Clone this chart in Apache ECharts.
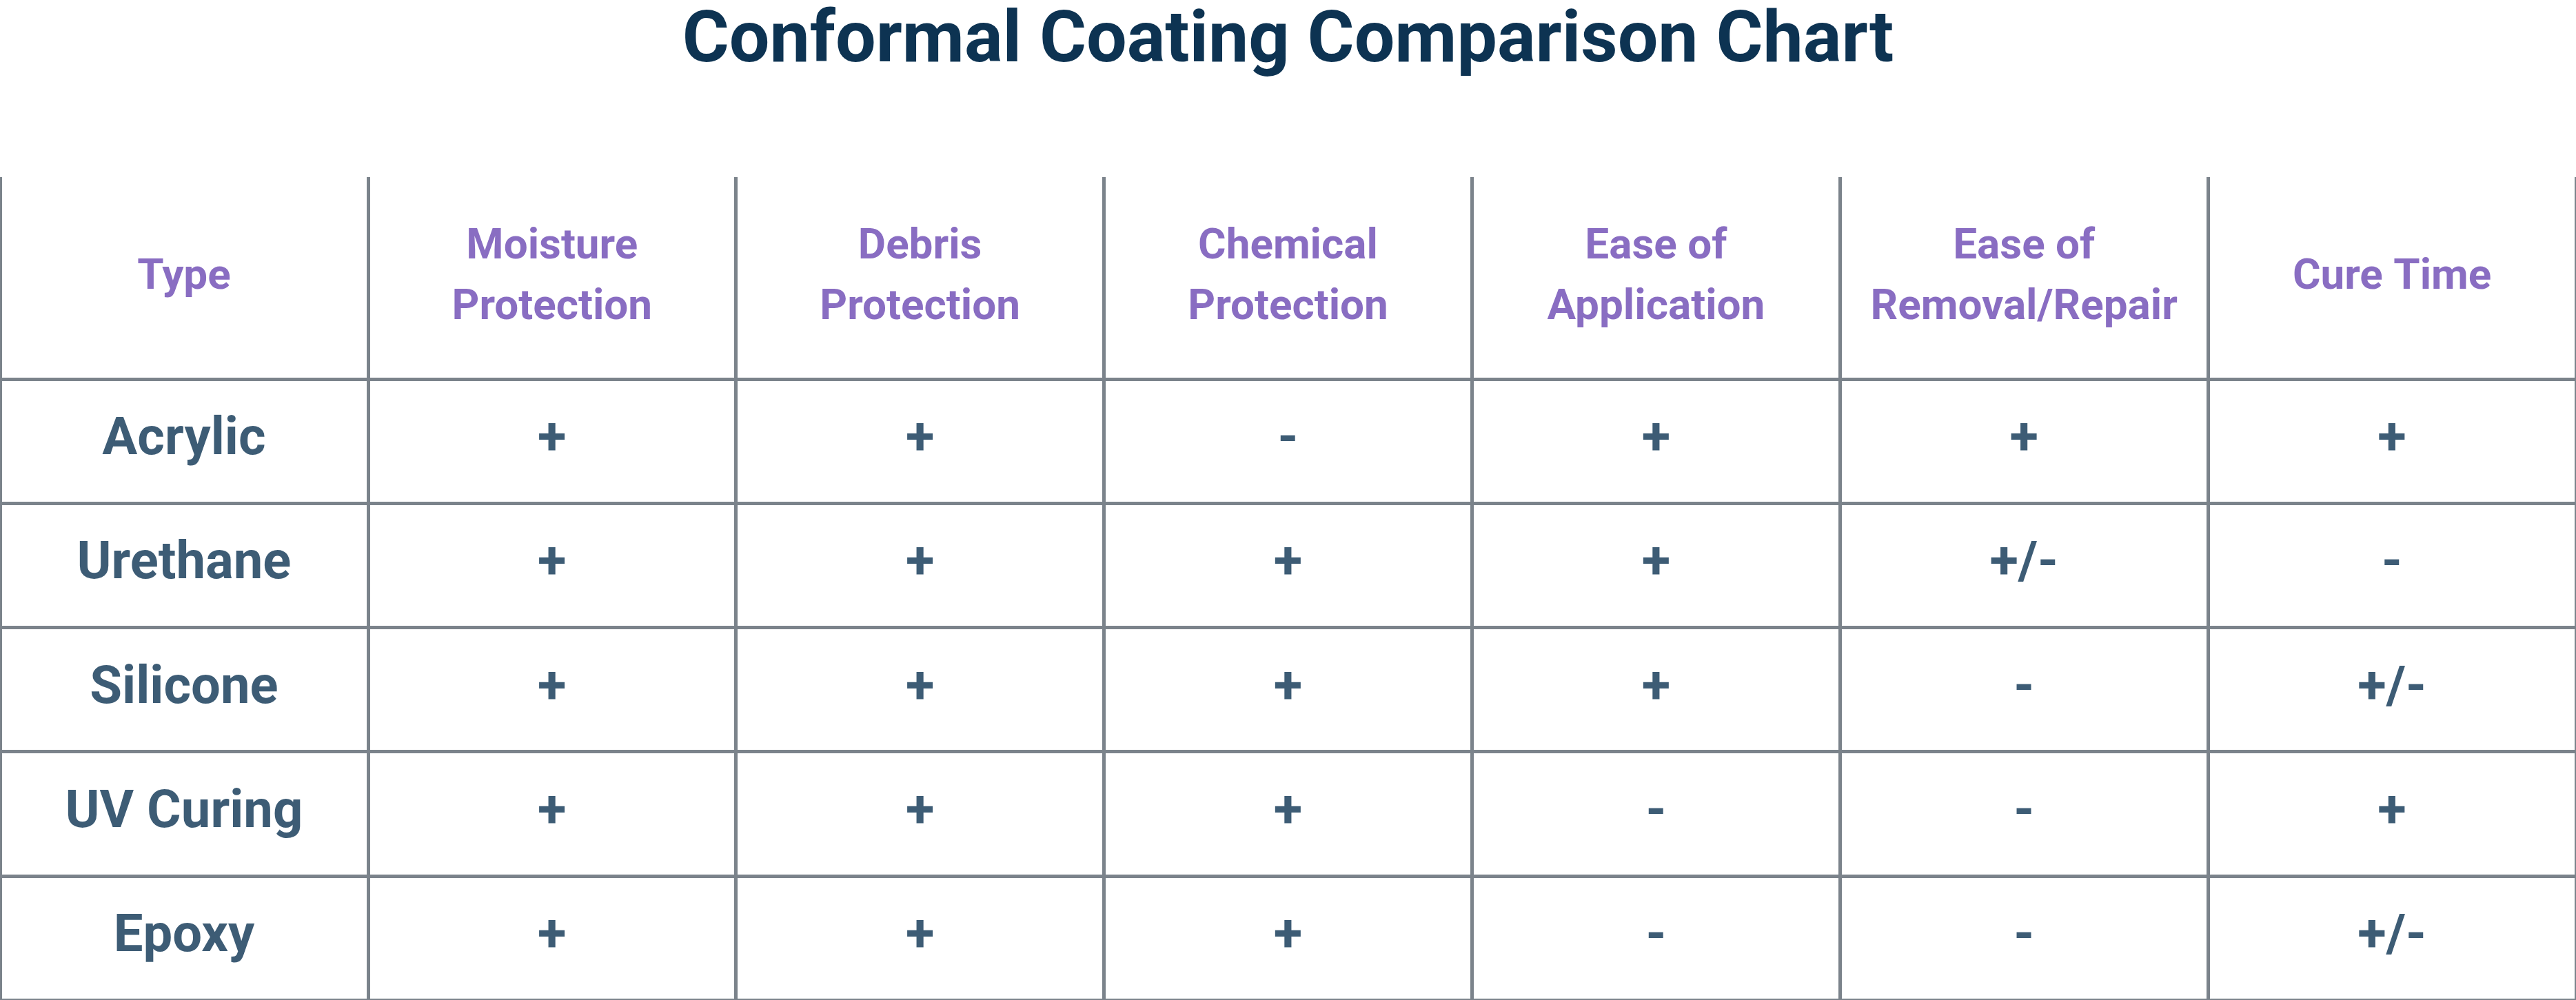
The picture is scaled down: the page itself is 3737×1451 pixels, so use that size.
<!DOCTYPE html>
<html>
<head>
<meta charset="utf-8">
<script src="https://cdn.jsdelivr.net/npm/echarts@6/dist/echarts.min.js"></script>
<style>html,body{margin:0;padding:0;background:#fff}#c{width:3737px;height:1451px}</style>
</head>
<body>
<div id="c"></div>
<script>
var columns = ['Type', 'Moisture\nProtection', 'Debris\nProtection', 'Chemical\nProtection',
    'Ease of\nApplication', 'Ease of\nRemoval/Repair', 'Cure Time'];
var types = ['Acrylic', 'Urethane', 'Silicone', 'UV Curing', 'Epoxy'];
var acrylic = ['+', '+', '-', '+', '+', '+'];
var urethane = ['+', '+', '+', '+', '+/-', '-'];
var silicone = ['+', '+', '+', '+', '-', '+/-'];
var uvCuring = ['+', '+', '+', '-', '-', '+'];
var epoxy = ['+', '+', '+', '-', '-', '+/-'];
var ratings = [acrylic, urethane, silicone, uvCuring, epoxy];

var navy = '#0d3352';
var purple = '#6b48b3';
var lineColor = '#7b838b';
var font = 'Roboto';

var chart = echarts.init(document.getElementById('c'));

// header cells
var headerData = columns.map(function (c, i) { return [i, 0, c]; });
// body cells: row name in column 0, then the ratings
var bodyData = [];
types.forEach(function (t, r) {
    bodyData.push([0, r, t]);
    ratings[r].forEach(function (v, k) {
        bodyData.push([k + 1, r, v]);
    });
});

var option = {
    backgroundColor: '#fff',
    title: {
        text: 'Conformal Coating Comparison Chart',
        left: 'center',
        top: 6,
        textStyle: {color: navy, fontFamily: font, fontWeight: 'bold', fontSize: 104}
    },
    grid: [
        {left: -5, right: -5, top: 257, height: 293},
        {left: -5, right: -5, top: 550, height: 905}
    ],
    xAxis: [
        {
            gridIndex: 0, type: 'category', data: columns,
            axisLine: {show: false}, axisTick: {show: false}, axisLabel: {show: false},
            splitLine: {show: true, lineStyle: {color: lineColor, width: 5}}
        },
        {
            gridIndex: 1, type: 'category', data: columns,
            axisLine: {show: false}, axisTick: {show: false}, axisLabel: {show: false},
            splitLine: {show: true, lineStyle: {color: lineColor, width: 5}}
        }
    ],
    yAxis: [
        {gridIndex: 0, type: 'value', min: -1, max: 1, show: false},
        {
            gridIndex: 1, type: 'category', data: types, inverse: true,
            axisLine: {show: false}, axisTick: {show: false}, axisLabel: {show: false},
            splitLine: {show: true, lineStyle: {color: lineColor, width: 5}}
        }
    ],
    series: [
        {
            type: 'scatter', xAxisIndex: 0, yAxisIndex: 0,
            symbolSize: 1, itemStyle: {color: 'rgba(0,0,0,0)'},
            encode: {x: 0, y: 1},
            data: headerData,
            label: {
                show: true, position: 'inside',
                formatter: function (p) { return p.data[2]; },
                color: purple, fontFamily: font, fontWeight: 'bold',
                fontSize: 62, lineHeight: 88
            }
        },
        {
            type: 'scatter', xAxisIndex: 1, yAxisIndex: 1,
            symbolSize: 1, itemStyle: {color: 'rgba(0,0,0,0)'},
            encode: {x: 0, y: 1},
            data: bodyData,
            label: {
                show: true, position: 'inside',
                formatter: function (p) { return p.data[2]; },
                color: navy, fontFamily: font, fontWeight: 'bold', fontSize: 76
            }
        }
    ]
};
chart.setOption(option);
</script>
</body>
</html>
